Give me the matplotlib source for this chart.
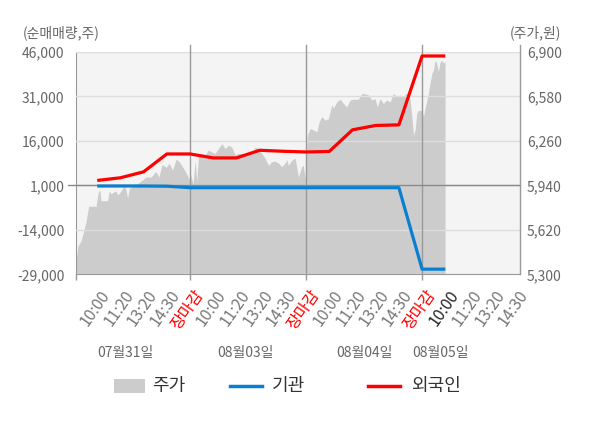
import matplotlib
matplotlib.use("Agg")
import matplotlib.pyplot as plt
import matplotlib.transforms as mtransforms
from matplotlib.patches import Rectangle
from matplotlib.lines import Line2D

plt.rcParams['font.family'] = ['Noto Sans CJK KR', 'DejaVu Sans']

# 주가 (분 단위 근사) : x는 슬롯 단위 (하루 = 5 슬롯)
price_x = [0.09, 0.16, 0.30, 0.40, 0.52, 0.63, 0.73, 0.95, 0.98, 1.06, 1.12, 1.16, 1.24, 1.45,
           1.52, 1.59, 1.69, 1.81, 1.88, 2.03, 2.17, 2.24, 2.31, 2.38, 2.53, 2.67, 2.96, 3.10,
           3.32, 3.53, 3.66, 3.79, 3.97, 4.09, 4.25, 4.40, 4.54, 4.69, 4.83, 4.97,
           5.00, 5.13, 5.22, 5.29, 5.36, 5.43, 5.65, 5.79, 5.94, 6.08, 6.22, 6.37, 6.51, 6.65,
           6.80, 6.94, 7.08, 7.23, 7.44, 7.66, 7.80, 7.94, 8.09, 8.23, 8.38, 8.52, 8.66, 8.81,
           8.95, 9.09, 9.17, 9.24, 9.38, 9.53, 9.67, 9.81, 9.88, 9.96,
           10.06, 10.17, 10.31, 10.46, 10.57, 10.68, 10.82, 10.96, 11.11, 11.18, 11.32, 11.47,
           11.61, 11.75, 11.90, 12.04, 12.25, 12.40, 12.54, 12.69, 12.83, 12.97, 13.07, 13.19,
           13.33, 13.48, 13.62, 13.76, 13.91, 14.05, 14.19, 14.34, 14.48, 14.56, 14.63, 14.70,
           14.77, 14.84, 14.99,
           15.06, 15.13, 15.27, 15.34, 15.42, 15.49, 15.56, 15.63, 15.70, 15.78, 15.85, 15.92, 15.99]
price = [5400, 5500, 5540, 5600, 5680, 5790, 5790, 5790, 5830, 5900, 5900, 5830, 5830, 5830,
         5900, 5880, 5890, 5900, 5870, 5900, 5940, 5905, 5850, 5920, 5930, 5945, 5980, 6000,
         6000, 6040, 6000, 6090, 6070, 6100, 6050, 6130, 6110, 6070, 6030, 5980,
         6035, 5950, 6120, 5965, 6145, 6170, 6160, 6195, 6180, 6170, 6205, 6240, 6205, 6230,
         6215, 6160, 6170, 6170, 6160, 6170, 6215, 6205, 6170, 6135, 6085, 6110, 6115, 6100,
         6075, 6100, 6125, 6085, 6120, 6135, 6000, 6075, 6085, 5985,
         6300, 6350, 6340, 6325, 6400, 6435, 6410, 6420, 6520, 6495, 6540, 6560,
         6530, 6505, 6555, 6560, 6560, 6600, 6600, 6590, 6555, 6565, 6505, 6565,
         6530, 6555, 6540, 6600, 6580, 6590, 6580, 6605, 6555, 6435, 6300, 6340,
         6460, 6480, 6480,
         6435, 6495, 6600, 6675, 6745, 6770, 6840, 6820, 6760, 6830, 6840, 6820, 6835]

# 순매매량 (주)
flow_x = list(range(1, 17))
inst = [800, 800, 800, 730, 230, 230, 230, 230, 230, 230, 230, 230, 230, 230, -27250, -27250]
foreign = [2670, 3580, 5590, 11610, 11610, 10270, 10270, 12850, 12520, 12280, 12450,
           19750, 21220, 21420, 44660, 44660]

tick_labels = ['10:00', '11:20', '13:20', '14:30', '장마감'] * 3 + ['10:00', '11:20', '13:20', '14:30']
day_labels = ['07월31일', '08월03일', '08월04일', '08월05일']
day_label_x = [2.2, 7.4, 12.5, 15.8]
day_breaks = [5, 10, 15]

left_ticks = [-29000, -14000, 1000, 16000, 31000, 46000]
right_ticks = [5300, 5620, 5940, 6260, 6580, 6900]

GRAY_TXT = '#666666'
AXIS_CLR = '#999999'

fig = plt.figure(figsize=(6, 4.28), dpi=100)
ax = fig.add_axes([0.1262, 0.359, 0.7405, 0.5195])
ax.set_facecolor('#f4f4f4')
ax2 = ax.twinx()

# 주가 영역 (오른쪽 축)
ax.fill_between(price_x, price, 5300, color='#cccccc', lw=0, zorder=1)
ax.set_ylim(5300, 6900)
ax.set_xlim(0.073, 19.22)
ax.yaxis.tick_right()
ax.set_yticks(right_ticks)
ax.set_yticklabels([f'{v:,}' for v in right_ticks])
ax.tick_params(axis='y', length=0, pad=5, labelsize=10, labelcolor=GRAY_TXT)

# 순매매량 (왼쪽 축)
ax2.yaxis.tick_left()
ax2.set_ylim(-29000, 46000)
ax2.set_yticks(left_ticks)
ax2.set_yticklabels([f'{v:,}' for v in left_ticks])
ax2.tick_params(axis='y', length=0, pad=8, labelsize=10, labelcolor=GRAY_TXT)
ax2.grid(axis='y', color='#dddddd', lw=1, zorder=2)
ax2.set_axisbelow(True)

trans = mtransforms.blended_transform_factory(ax2.transData, ax2.transAxes)
for b in day_breaks:
    ax2.plot([b, b], [0, 1.031], transform=trans, color=AXIS_CLR, lw=1, clip_on=False, zorder=3)
ax2.plot([-0.017, 1], [1000, 1000], transform=mtransforms.blended_transform_factory(ax2.transAxes, ax2.transData),
         color='#888888', lw=1, clip_on=False, zorder=3)
ax2.plot([1, 1], [0, 1.031], transform=ax2.transAxes, color=AXIS_CLR, lw=1, clip_on=False, zorder=3)

ax2.plot(flow_x, inst, color='#0a7fd0', lw=2.3, zorder=4, solid_capstyle='butt')
ax2.plot(flow_x, foreign, color='#ff0000', lw=2.3, zorder=5, solid_capstyle='butt')

for a in (ax, ax2):
    for s in ['top', 'right']:
        a.spines[s].set_visible(False)
    a.spines['left'].set_color(AXIS_CLR)
    a.spines['bottom'].set_color(AXIS_CLR)
ax2.spines['left'].set_visible(False)
ax2.spines['bottom'].set_visible(False)

# x축 눈금
ax.set_xticks([x + 0.12 for x in range(1, 20)])
ax.set_xticklabels(tick_labels, rotation=55, ha='right', rotation_mode='anchor')
ax.tick_params(axis='x', length=0, pad=9, labelsize=11.5, labelcolor='#777777')
for i, lab in enumerate(ax.get_xticklabels()):
    if lab.get_text() == '장마감':
        lab.set_color('#ff0000')
    elif i == 15:
        lab.set_color('#222222')
ax.set_xticks([0.073] + day_breaks, minor=True)
ax.tick_params(axis='x', which='minor', length=4, color=AXIS_CLR, width=1)

tb = mtransforms.blended_transform_factory(ax.transData, ax.transAxes)
for x, t in zip(day_label_x, day_labels):
    ax.text(x, -0.354, t, transform=tb, ha='center', va='center', fontsize=10, color=GRAY_TXT)

fig.text(0.102, 0.923, '(순매매량,주)', ha='center', va='center', fontsize=10, color=GRAY_TXT)
fig.text(0.893, 0.923, '(주가,원)', ha='center', va='center', fontsize=10, color=GRAY_TXT)

# 범례
ly = 1 - 386 / 428
fig.add_artist(Rectangle((114 / 600, ly - 7 / 428), 31 / 600, 14 / 428, transform=fig.transFigure,
                         facecolor='#cccccc', edgecolor='none'))
fig.text(152 / 600, ly, '주가', ha='left', va='center', fontsize=13, color='#333333')
fig.add_artist(Line2D([230 / 600, 262 / 600], [ly, ly], transform=fig.transFigure, color='#0a7fd0', lw=2.5))
fig.text(272 / 600, ly, '기관', ha='left', va='center', fontsize=13, color='#333333')
fig.add_artist(Line2D([368 / 600, 400 / 600], [ly, ly], transform=fig.transFigure, color='#ff0000', lw=2.5))
fig.text(411 / 600, ly, '외국인', ha='left', va='center', fontsize=13, color='#333333')

fig.savefig('out.png', dpi=100)
